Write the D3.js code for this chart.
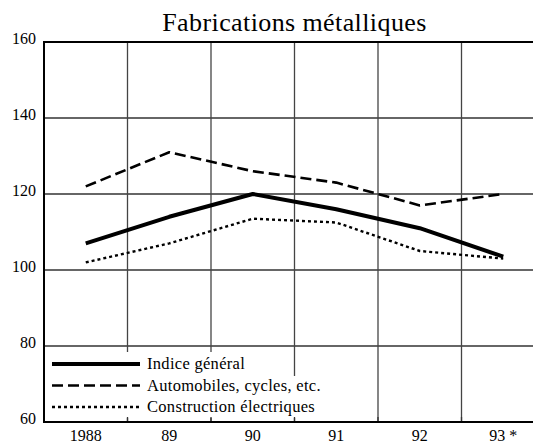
<!doctype html>
<html>

<head>
	<meta charset="utf-8">
	<title>Fabrications métalliques</title>
	<script type="text/javascript" src="https://d3js.org/d3.v7.min.js"></script>
	<style>
		body { margin: 0; background: #fff; }
	</style>
</head>

<body>
	<div id="chart"></div>
	<script>
		// data
		const years = ['1988', '89', '90', '91', '92', '93 *'];
		const indiceGeneral = [107, 114, 120, 116, 111, 103.5];
		const automobiles = [122, 131, 126, 123, 117, 120];
		const constructionElec = [102, 107, 113.5, 112.5, 105, 103];
		const yTicks = [60, 80, 100, 120, 140, 160];
		const seriesNames = ['Indice général', 'Automobiles, cycles, etc.', 'Construction électriques'];

		const series = [
			{ name: seriesNames[0], values: indiceGeneral, width: 4, dash: null },
			{ name: seriesNames[1], values: automobiles, width: 2.6, dash: '11,5' },
			{ name: seriesNames[2], values: constructionElec, width: 2.4, dash: '3,3' }
		];

		const W = 533, H = 445;
		const margin = { top: 42, right: -12, bottom: 23, left: 44 };
		const width = W - margin.left - margin.right;
		const height = H - margin.top - margin.bottom;
		const serif = '"Liberation Serif", "DejaVu Serif", serif';

		const svg = d3.select('#chart').append('svg')
			.attr('width', W)
			.attr('height', H)
			.attr('font-family', serif);

		const g = svg.append('g')
			.attr('transform', 'translate(' + margin.left + ',' + margin.top + ')');

		const x = d3.scaleBand()
			.domain(years)
			.range([0, width])
			.padding(0);

		const y = d3.scaleLinear()
			.domain([60, 160])
			.range([height, 0]);

		// title
		svg.append('text')
			.attr('x', margin.left + width / 2)
			.attr('y', 31)
			.attr('text-anchor', 'middle')
			.attr('font-family', serif)
			.attr('font-size', '26px')
			.attr('letter-spacing', '0.4px')
			.text('Fabrications métalliques');

		// horizontal grid
		g.selectAll('.hgrid')
			.data(yTicks.filter(d => d > 60 && d < 160))
			.enter().append('line')
			.attr('x1', 0)
			.attr('x2', width)
			.attr('y1', d => y(d))
			.attr('y2', d => y(d))
			.attr('stroke', '#333')
			.attr('stroke-width', 1.3);

		// vertical grid at band boundaries
		const bounds = years.slice(1).map(d => x(d));
		g.selectAll('.vgrid')
			.data(bounds)
			.enter().append('line')
			.attr('x1', d => d)
			.attr('x2', d => d)
			.attr('y1', 0)
			.attr('y2', height)
			.attr('stroke', '#444')
			.attr('stroke-width', 1.3);

		// legend background hides part of the grid
		g.append('rect')
			.attr('x', 2)
			.attr('y', y(80) + 6)
			.attr('width', 244)
			.attr('height', height - y(80) - 10)
			.attr('fill', '#fff');
		g.append('rect')
			.attr('x', 246)
			.attr('y', y(80) + 30)
			.attr('width', 40)
			.attr('height', height - y(80) - 34)
			.attr('fill', '#fff');

		// small ticks on bottom axis
		g.selectAll('.btick')
			.data(bounds)
			.enter().append('line')
			.attr('x1', d => d)
			.attr('x2', d => d)
			.attr('y1', height - 5)
			.attr('y2', height)
			.attr('stroke', '#333')
			.attr('stroke-width', 1.3);

		// frame: top, left, bottom
		g.append('path')
			.attr('d', 'M' + width + ',0H0V' + height + 'H' + width)
			.attr('fill', 'none')
			.attr('stroke', '#000')
			.attr('stroke-width', 2);

		// y labels
		g.selectAll('.ylab')
			.data(yTicks)
			.enter().append('text')
			.attr('x', -8)
			.attr('y', d => y(d))
			.attr('dy', '0.1em')
			.attr('text-anchor', 'end')
			.attr('font-size', '16px')
			.text(d => d);

		// x labels
		g.selectAll('.xlab')
			.data(years)
			.enter().append('text')
			.attr('x', d => x(d) + x.bandwidth() / 2)
			.attr('y', height + 19)
			.attr('text-anchor', 'middle')
			.attr('font-size', '16px')
			.text(d => d);

		// lines
		const line = d3.line()
			.x((d, i) => x(years[i]) + x.bandwidth() / 2)
			.y(d => y(d));

		series.forEach(s => {
			g.append('path')
				.datum(s.values)
				.attr('fill', 'none')
				.attr('stroke', '#000')
				.attr('stroke-width', s.width)
				.attr('stroke-dasharray', s.dash)
				.attr('stroke-linejoin', 'round')
				.attr('d', line);
		});

		// legend
		const legend = g.append('g')
			.attr('transform', 'translate(8,' + (y(80) + 18) + ')');
		series.forEach((s, i) => {
			const row = legend.append('g').attr('transform', 'translate(0,' + (i * 21.5) + ')');
			row.append('line')
				.attr('x1', 0)
				.attr('x2', 88)
				.attr('stroke', '#000')
				.attr('stroke-width', s.width)
				.attr('stroke-dasharray', s.dash);
			row.append('text')
				.attr('x', 95)
				.attr('dy', '0.33em')
				.attr('font-size', '16.5px')
				.attr('letter-spacing', '0.3px')
				.text(s.name);
		});
	</script>
</body>

</html>
